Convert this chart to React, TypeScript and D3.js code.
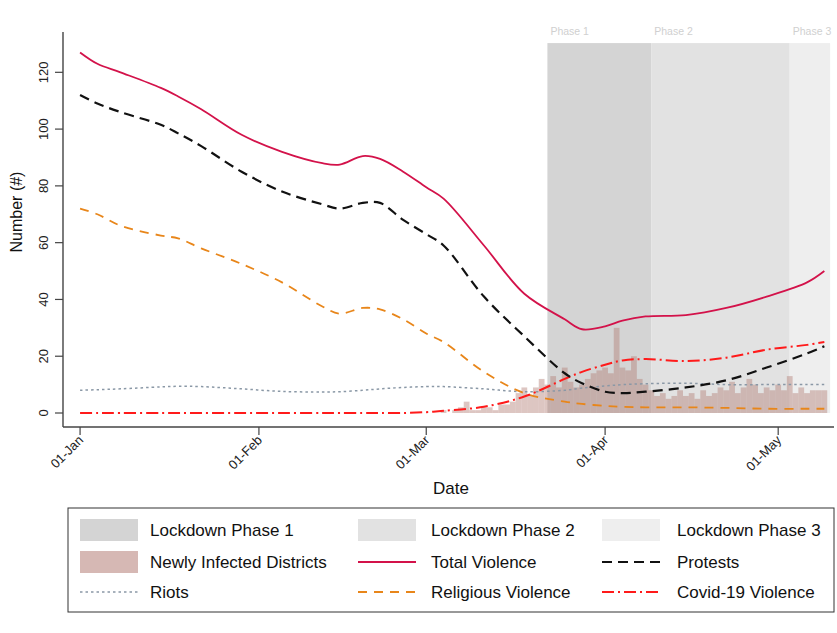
import React from "react";
import * as d3 from "d3";

// ---- data ----
const sampleDates = [
  "2020-01-01", "2020-01-04", "2020-01-08", "2020-01-15", "2020-01-18", "2020-01-22",
  "2020-01-29", "2020-02-05", "2020-02-12", "2020-02-15", "2020-02-19", "2020-02-22",
  "2020-02-26", "2020-03-01", "2020-03-04", "2020-03-11", "2020-03-18", "2020-03-25",
  "2020-03-28", "2020-04-01", "2020-04-04", "2020-04-08", "2020-04-15", "2020-04-22",
  "2020-04-29", "2020-05-06", "2020-05-09",
];
const totalViolence = [127, 123, 120, 114.5, 111.5, 107, 98, 92, 88, 87.5, 90.5, 89.5, 85, 79.5, 75.5, 59, 42, 33, 29.5, 30.5, 32.5, 34, 34.5, 37, 41, 46, 50];
const protests = [112, 109, 106, 101.5, 98.5, 94, 85, 78, 73.5, 72, 74, 74, 68, 63, 59, 41, 27, 14, 10.5, 7.5, 7, 7.5, 9, 11.5, 16, 21, 23.5];
const religiousViolence = [72, 70, 66, 62.5, 61.5, 58, 52.5, 46, 37.5, 35, 37, 36.5, 33, 28, 25, 14.5, 7, 4, 3.2, 2.5, 2.2, 2, 2, 1.8, 1.5, 1.5, 1.5];
const riots = [8, 8.2, 8.5, 9.2, 9.4, 9.3, 8.5, 7.6, 7.4, 7.5, 8, 8.5, 9, 9.3, 9.3, 8.5, 7.5, 8, 8.8, 9.5, 10, 10.3, 10.5, 10, 10, 10, 10];
const covidViolence = [0, 0, 0, 0, 0, 0, 0, 0, 0, 0, 0, 0, 0, 0.3, 0.8, 2.2, 5.8, 12, 14.5, 17, 18.5, 19, 18.3, 19.5, 22.3, 24, 25];

const barStart = "2020-03-01";
const newDistricts = [
  0, 0, 0, 1, 0, 1, 2, 4, 1, 1, 2, 2, 1, 3, 3, 4, 7, 9, 6, 9, 12, 10, 13, 9, 16, 11, 9, 10, 12, 14, 15,
  16, 14, 30, 16, 15, 20, 12, 10, 8, 6, 7, 5, 6, 8, 6, 7, 5, 8, 6, 7, 9, 8, 11, 7, 9, 12, 10, 7, 9, 8,
  10, 8, 13, 7, 9, 7, 8, 8, 8,
];

const phaseNames = ["Phase 1", "Phase 2", "Phase 3"];
const phaseStarts = ["2020-03-22", "2020-04-09", "2020-05-03"];
const phaseEnds = ["2020-04-09", "2020-05-03", "2020-05-10"];
const phaseColors = ["#d4d4d4", "#e2e2e2", "#eeeeee"];

const yTicks = [0, 20, 40, 60, 80, 100, 120];
const xTickDates = ["2020-01-01", "2020-02-01", "2020-03-01", "2020-04-01", "2020-05-01"];
const xTickLabels = ["01-Jan", "01-Feb", "01-Mar", "01-Apr", "01-May"];

const FONT = "'Liberation Sans', Arial, Helvetica, sans-serif";

export default function App() {
  const parse = d3.utcParse("%Y-%m-%d");
  const x = d3
    .scaleUtc()
    .domain([new Date(Date.UTC(2019, 11, 29, 1)), new Date(Date.UTC(2020, 4, 10, 12))])
    .range([63, 833]);
  const y = d3.scaleLinear().domain([-4.93, 134.2]).range([427, 32]);
  const dayW = x(parse("2020-01-02")!) - x(parse("2020-01-01")!);

  const pts = sampleDates.map((s) => parse(s)!);
  const mk = (vals: number[]) =>
    d3
      .line<number>()
      .x((_, i) => x(pts[i]))
      .y((v) => y(v))
      .curve(d3.curveCatmullRom.alpha(0.5))(vals) || "";

  const start = parse(barStart)!;
  const bars = newDistricts.map((v, i) => ({ d: d3.utcDay.offset(start, i), v }));

  const barFill = "rgba(180,128,120,0.45)";
  const series = [
    { vals: riots, color: "#8a98a6", dash: "2.5,3", w: 1.5 },
    { vals: religiousViolence, color: "#e8861a", dash: "9,7", w: 1.8 },
    { vals: covidViolence, color: "#ff1a1a", dash: "12,4,2,4", w: 2 },
    { vals: protests, color: "#111111", dash: "10,6", w: 2.2 },
    { vals: totalViolence, color: "#d3124a", dash: "", w: 1.8 },
  ];

  const legendItems = [
    { label: "Lockdown Phase 1", kind: "rect", fill: phaseColors[0] },
    { label: "Lockdown Phase 2", kind: "rect", fill: phaseColors[1] },
    { label: "Lockdown Phase 3", kind: "rect", fill: phaseColors[2] },
    { label: "Newly Infected Districts", kind: "rect", fill: "rgba(180,125,118,0.55)" },
    { label: "Total Violence", kind: "line", color: "#d3124a", dash: "", w: 1.8 },
    { label: "Protests", kind: "line", color: "#111111", dash: "10,6", w: 2.2 },
    { label: "Riots", kind: "line", color: "#8a98a6", dash: "2.5,3", w: 1.5 },
    { label: "Religious Violence", kind: "line", color: "#e8861a", dash: "9,7", w: 1.8 },
    { label: "Covid-19 Violence", kind: "line", color: "#ff1a1a", dash: "12,4,2,4", w: 2 },
  ];
  const colSw = [80, 358, 602];
  const colTx = [150, 431, 677];
  const rowY = [530, 562, 592];

  return (
    <svg width={837} height={633} style={{ display: "block", position: "absolute", left: 0, top: 0, background: "#fff" }} fontFamily={FONT}>
      <rect x={0} y={0} width={837} height={633} fill="#fff" />
      {/* lockdown shading */}
      {phaseStarts.map((s, i) => (
        <rect
          key={"ph" + i}
          x={x(parse(s)!)}
          y={y(130.3)}
          width={Math.min(x(parse(phaseEnds[i])!), 831) - x(parse(s)!)}
          height={y(0) - y(130.3)}
          fill={phaseColors[i]}
        />
      ))}
      {phaseStarts.map((s, i) => (
        <text key={"pl" + i} x={x(parse(s)!) + 3} y={35} fontSize={10.5} fill="#d0d0d0">
          {phaseNames[i]}
        </text>
      ))}
      {/* bars */}
      {bars.map((b, i) =>
        b.v > 0 ? (
          <rect
            key={"b" + i}
            x={x(b.d) - dayW / 2}
            y={y(b.v)}
            width={dayW}
            height={y(0) - y(b.v)}
            fill={barFill}
          />
        ) : null
      )}
      {/* lines */}
      {series.map((s, i) => (
        <path key={"s" + i} d={mk(s.vals)} fill="none" stroke={s.color} strokeWidth={s.w} strokeDasharray={s.dash || undefined} />
      ))}
      {/* axes */}
      <line x1={63} x2={63} y1={32} y2={427} stroke="#444" strokeWidth={1.4} />
      <line x1={63} x2={834} y1={427} y2={427} stroke="#444" strokeWidth={1.4} />
      {yTicks.map((t) => (
        <g key={"yt" + t}>
          <line x1={55} x2={63} y1={y(t)} y2={y(t)} stroke="#444" strokeWidth={1.2} />
          <text
            transform={`translate(48,${y(t)}) rotate(-90)`}
            textAnchor="middle"
            fontSize={13}
            fill="#222"
          >
            {t}
          </text>
        </g>
      ))}
      {xTickDates.map((s, i) => {
        const xx = x(parse(s)!);
        return (
          <g key={"xt" + i}>
            <line x1={xx} x2={xx} y1={427} y2={435} stroke="#444" strokeWidth={1.2} />
            <text transform={`translate(${xx + 4},${441}) rotate(-45)`} textAnchor="end" fontSize={13} fill="#222">
              {xTickLabels[i]}
            </text>
          </g>
        );
      })}
      <text transform="translate(22,212) rotate(-90)" textAnchor="middle" fontSize={16} fill="#111">
        Number (#)
      </text>
      <text x={451} y={494} textAnchor="middle" fontSize={17} fill="#111">
        Date
      </text>
      {/* legend */}
      <rect x={68} y={508} width={766} height={104} fill="#fff" stroke="#333" strokeWidth={1} />
      {legendItems.map((it, i) => {
        const c = i % 3;
        const r = Math.floor(i / 3);
        const cy = rowY[r];
        return (
          <g key={"lg" + i}>
            {it.kind === "rect" ? (
              <rect x={colSw[c]} y={cy - 11} width={58} height={22} fill={it.fill} />
            ) : (
              <line
                x1={colSw[c]}
                x2={colSw[c] + 58}
                y1={cy}
                y2={cy}
                stroke={it.color}
                strokeWidth={it.w}
                strokeDasharray={it.dash || undefined}
              />
            )}
            <text x={colTx[c]} y={cy + 6} fontSize={17} fill="#111">
              {it.label}
            </text>
          </g>
        );
      })}
    </svg>
  );
}
